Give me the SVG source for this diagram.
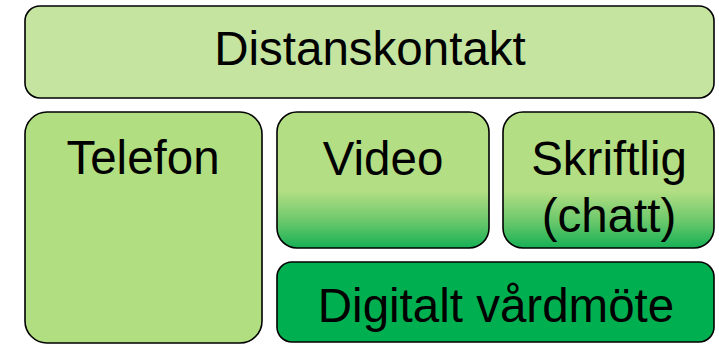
<svg xmlns="http://www.w3.org/2000/svg" width="719" height="344" viewBox="0 0 719 344">
  <style>
    .box { stroke: #000; stroke-width: 1.6; }
    .lbl { font-family: "Liberation Sans", Arial, sans-serif; font-size: 47.5px; fill: #000; text-anchor: middle; }
  </style>
  <defs>
    <linearGradient id="g1" x1="0" y1="0" x2="0" y2="1">
      <stop offset="0" stop-color="#b3de83"/>
      <stop offset="0.58" stop-color="#b3de83"/>
      <stop offset="0.8" stop-color="#6cc86c"/>
      <stop offset="1" stop-color="#16b055"/>
    </linearGradient>
  </defs>
  <rect width="719" height="344" fill="#fff"/>
  <g id="distanskontakt">
    <rect class="box" x="25" y="6" width="689" height="92" rx="15" fill="#c4e4a0"/>
    <text class="lbl" x="370" y="65">Distanskontakt</text>
  </g>
  <g id="telefon">
    <rect class="box" x="25" y="112" width="237" height="231" rx="22" fill="#b2de82"/>
    <text class="lbl" x="143" y="174">Telefon</text>
  </g>
  <g id="video">
    <rect class="box" x="277" y="112" width="212" height="136" rx="20" fill="url(#g1)"/>
    <text class="lbl" x="383" y="175">Video</text>
  </g>
  <g id="skriftlig">
    <rect class="box" x="503" y="112" width="211" height="136" rx="20" fill="url(#g1)"/>
    <text class="lbl" x="609" y="175">Skriftlig</text>
    <text class="lbl" x="609" y="232">(chatt)</text>
  </g>
  <g id="digitalt">
    <rect class="box" x="277" y="262" width="437" height="80" rx="15" fill="#00b050"/>
    <text class="lbl" x="496" y="322">Digitalt vårdmöte</text>
  </g>
  <g id="connectors"></g>
</svg>
